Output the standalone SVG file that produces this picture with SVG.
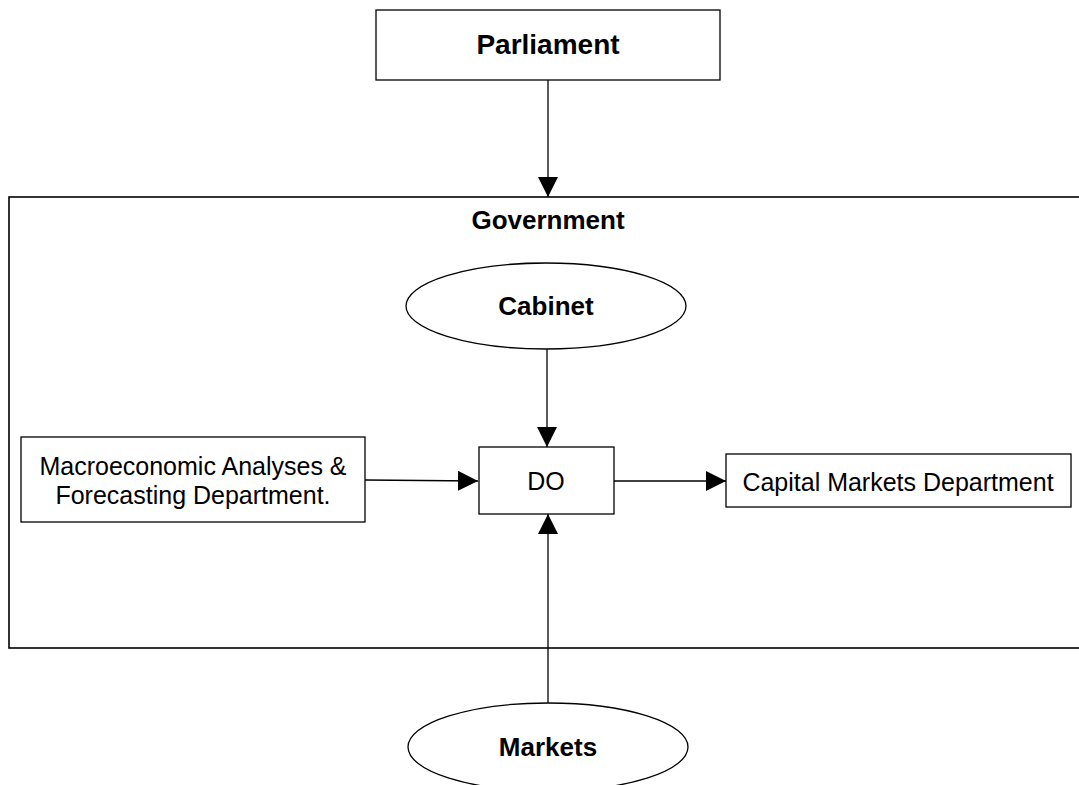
<svg xmlns="http://www.w3.org/2000/svg" width="1079" height="785" viewBox="0 0 1079 785">
  <style>
    .box { fill: #ffffff; stroke: #000000; stroke-width: 1.3; }
    .frame { fill: #ffffff; stroke: #000000; stroke-width: 1.6; }
    .link { stroke: #000000; stroke-width: 1.3; fill: none; marker-end: url(#arrow); }
    .bold { font-family: "Liberation Sans", Arial, sans-serif; font-weight: bold; font-size: 26px; text-anchor: middle; fill: #000000; }
    .title { font-size: 28px; }
    .plain { font-family: "Liberation Sans", Arial, sans-serif; font-size: 25px; text-anchor: middle; fill: #000000; }
  </style>
  <defs>
    <marker id="arrow" viewBox="0 0 20 20" refX="20" refY="10" markerWidth="20" markerHeight="20" markerUnits="userSpaceOnUse" orient="auto">
      <path d="M0,0 L20,10 L0,20 Z" fill="#000000"/>
    </marker>
  </defs>

  <rect width="1079" height="785" fill="#ffffff"/>

  <!-- Government container -->
  <g id="government">
    <rect class="frame" x="9" y="197" width="1080" height="451"/>
    <text class="bold" x="548" y="229">Government</text>
  </g>

  <g id="parliament">
    <rect class="box" x="376" y="10" width="344" height="70"/>
    <text class="bold title" x="548" y="54">Parliament</text>
  </g>

  <g id="cabinet">
    <ellipse class="box" cx="546" cy="306" rx="140" ry="43"/>
    <text class="bold" x="546" y="315">Cabinet</text>
  </g>

  <g id="macro">
    <rect class="box" x="21" y="437" width="344" height="85"/>
    <text class="plain" x="193" y="475">Macroeconomic Analyses &amp;</text>
    <text class="plain" x="193" y="504">Forecasting Department.</text>
  </g>

  <g id="do">
    <rect class="box" x="479" y="447" width="135" height="67"/>
    <text class="plain" x="546" y="490">DO</text>
  </g>

  <g id="capital">
    <rect class="box" x="726" y="454" width="345" height="53"/>
    <text class="plain" x="898" y="491">Capital Markets Department</text>
  </g>

  <g id="markets">
    <ellipse class="box" cx="548" cy="747" rx="140" ry="44"/>
    <text class="bold" x="548" y="756">Markets</text>
  </g>

  <!-- Connectors -->
  <g id="connectors">
    <line class="link" x1="548" y1="80" x2="548" y2="197"/>
    <line class="link" x1="547" y1="349" x2="547" y2="447"/>
    <line class="link" x1="365" y1="480" x2="478" y2="481"/>
    <line class="link" x1="614" y1="481" x2="726" y2="481"/>
    <line class="link" x1="548" y1="703" x2="548" y2="514"/>
  </g>
</svg>
